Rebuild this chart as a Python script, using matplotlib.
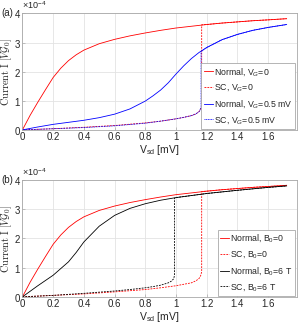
import numpy as np
import matplotlib
matplotlib.use("Agg")
import matplotlib.pyplot as plt
import matplotlib.ticker as ticker

plt.rcParams["font.family"] = ["Liberation Sans", "DejaVu Sans"]
plt.rcParams["mathtext.fontset"] = "custom"
plt.rcParams["mathtext.rm"] = "Liberation Sans"
plt.rcParams["mathtext.it"] = "Liberation Sans:italic"

SCALE = 1e-4

# --- panel (a): gate voltage ---
red_norm_x = [0, 0.05, 0.1, 0.15, 0.2, 0.25, 0.3, 0.35, 0.4, 0.5, 0.6, 0.7, 0.8,
              0.9, 1.0, 1.1, 1.2, 1.3, 1.4, 1.5, 1.6, 1.72]
red_norm_y = [0, 0.5, 0.95, 1.38, 1.8, 2.12, 2.38, 2.58, 2.74, 2.96, 3.11, 3.23,
              3.33, 3.42, 3.5, 3.56, 3.62, 3.67, 3.71, 3.75, 3.78, 3.82]

red_sc_x = [0, 0.2, 0.4, 0.6, 0.8, 0.9, 1.0, 1.05, 1.1, 1.13, 1.15, 1.16, 1.167,
            1.167, 1.2, 1.3, 1.4, 1.5, 1.6, 1.72]
red_sc_y = [0, 0.04, 0.09, 0.15, 0.24, 0.3, 0.38, 0.43, 0.49, 0.55, 0.63, 0.72, 0.8,
            3.61, 3.62, 3.67, 3.71, 3.75, 3.78, 3.82]

blue_norm_x = [0, 0.1, 0.2, 0.3, 0.4, 0.5, 0.6, 0.7, 0.8, 0.85, 0.9, 0.95, 1.0,
               1.05, 1.1, 1.15, 1.2, 1.3, 1.4, 1.5, 1.6, 1.72]
blue_norm_y = [0, 0.1, 0.19, 0.26, 0.33, 0.42, 0.54, 0.72, 0.99, 1.17, 1.37, 1.62,
               1.92, 2.2, 2.45, 2.66, 2.83, 3.1, 3.28, 3.42, 3.52, 3.62]

blue_sc_x = [0, 0.2, 0.4, 0.6, 0.8, 0.9, 1.0, 1.05, 1.1, 1.13, 1.15, 1.16, 1.163,
             1.163, 1.2, 1.3, 1.4, 1.5, 1.6, 1.72]
blue_sc_y = [0, 0.04, 0.08, 0.14, 0.23, 0.3, 0.38, 0.43, 0.49, 0.55, 0.63, 0.72, 0.78,
             2.69, 2.83, 3.1, 3.28, 3.42, 3.52, 3.62]

# --- panel (b): magnetic field ---
black_norm_x = [0, 0.1, 0.2, 0.3, 0.35, 0.4, 0.5, 0.6, 0.7, 0.8, 0.9, 1.0, 1.2,
                1.4, 1.6, 1.72]
black_norm_y = [0, 0.38, 0.74, 1.2, 1.52, 1.88, 2.42, 2.79, 3.03, 3.19, 3.31, 3.4,
                3.54, 3.65, 3.75, 3.8]

red_sc_b_x = [0, 0.2, 0.4, 0.6, 0.8, 0.9, 1.0, 1.05, 1.1, 1.13, 1.15, 1.16, 1.167,
              1.167, 1.2, 1.3, 1.4, 1.5, 1.6, 1.72]
red_sc_b_y = [0, 0.05, 0.1, 0.17, 0.25, 0.31, 0.38, 0.43, 0.48, 0.55, 0.63, 0.72, 0.86,
              3.61, 3.62, 3.67, 3.71, 3.75, 3.78, 3.82]

black_sc_x = [0, 0.2, 0.4, 0.6, 0.7, 0.8, 0.85, 0.9, 0.95, 0.97, 0.985, 0.99, 0.99,
              1.0, 1.2, 1.4, 1.6, 1.72]
black_sc_y = [0, 0.05, 0.12, 0.2, 0.25, 0.31, 0.35, 0.4, 0.48, 0.54, 0.62, 0.74, 3.38,
              3.4, 3.54, 3.65, 3.75, 3.8]

x_ticks = [0, 0.2, 0.4, 0.6, 0.8, 1.0, 1.2, 1.4, 1.6]
x_tick_labels = ["0", "0.2", "0.4", "0.6", "0.8", "1", "1.2", "1.4", "1.6"]
y_ticks = [0, 1, 2, 3, 4]

GRID = "#e3e3e3"
FRAME = "#a8a8a8"
TXT = "#262626"
DASH = (0, (2.2, 1.3))


def scaled(v):
    return np.array(v) * SCALE


def style_axes(ax, label):
    ax.set_xlim(0, 1.785)
    ax.set_ylim(0, 4 * SCALE)
    ax.set_xticks(x_ticks)
    ax.set_xticklabels(x_tick_labels)
    ax.set_yticks(scaled(y_ticks))
    fmt = ticker.ScalarFormatter(useMathText=True)
    fmt.set_powerlimits((-3, 3))
    ax.yaxis.set_major_formatter(fmt)
    ax.yaxis.get_offset_text().set_fontsize(6.5)
    ax.yaxis.get_offset_text().set_color(TXT)
    ax.grid(True, color=GRID, linewidth=0.6)
    ax.set_axisbelow(True)
    for s in ax.spines.values():
        s.set_color(FRAME)
        s.set_linewidth(0.6)
    ax.tick_params(direction="in", length=2, width=0.5, color=FRAME,
                   labelsize=7, labelcolor=TXT, pad=1.5)
    ax.tick_params(axis="y", pad=1)
    ax.set_xlabel(r"V$_{\rm sd}$ [mV]", fontsize=7.5, color=TXT, labelpad=1)
    ax.set_ylabel(r"$\mathrm{Current\ I}\ [V\mathcal{G}_0]$", fontsize=7.4,
                  color=TXT, math_fontfamily="cm")
    ax.yaxis.set_label_coords(-0.031, 0.5)
    ax.text(-0.078, 1.0, label, transform=ax.transAxes, fontsize=7, color=TXT,
            ha="left", va="center")


fig = plt.figure(figsize=(2.99, 3.28), dpi=100)
ax_a = fig.add_axes([0.075, 0.604, 0.917, 0.355])
ax_b = fig.add_axes([0.075, 0.095, 0.917, 0.356])

lw = 0.6
ax_a.plot(red_norm_x, scaled(red_norm_y), color="red", lw=lw, label=r"Normal, V$_G$=0")
ax_a.plot(red_sc_x, scaled(red_sc_y), color="red", lw=lw, ls=DASH, label=r"SC, V$_G$=0")
ax_a.plot(blue_norm_x, scaled(blue_norm_y), color="blue", lw=lw,
          label=r"Normal, V$_G$=0.5 mV")
ax_a.plot(blue_sc_x, scaled(blue_sc_y), color="blue", lw=lw, ls=(0, (1.2, 0.8)),
          label=r"SC, V$_G$=0.5 mV")

ax_b.plot(red_norm_x, scaled(red_norm_y), color="red", lw=lw, label=r"Normal, B$_0$=0")
ax_b.plot(red_sc_b_x, scaled(red_sc_b_y), color="red", lw=lw, ls=DASH, label=r"SC, B$_0$=0")
ax_b.plot(black_norm_x, scaled(black_norm_y), color="black", lw=lw,
          label=r"Normal, B$_0$=6 T")
ax_b.plot(black_sc_x, scaled(black_sc_y), color="black", lw=lw, ls=DASH,
          label=r"SC, B$_0$=6 T")

for ax, lab in [(ax_a, "(a)"), (ax_b, "(b)")]:
    style_axes(ax, lab)
    leg = ax.legend(loc="lower right", fontsize=6.3, handlelength=1.0,
                    handletextpad=0.15, borderpad=0.3, labelspacing=0.55,
                    borderaxespad=0.15, fancybox=False, framealpha=1)
    leg.get_frame().set_edgecolor(FRAME)
    leg.get_frame().set_linewidth(0.6)
    for t in leg.get_texts():
        t.set_color(TXT)

fig.savefig("out.png", dpi=100)
